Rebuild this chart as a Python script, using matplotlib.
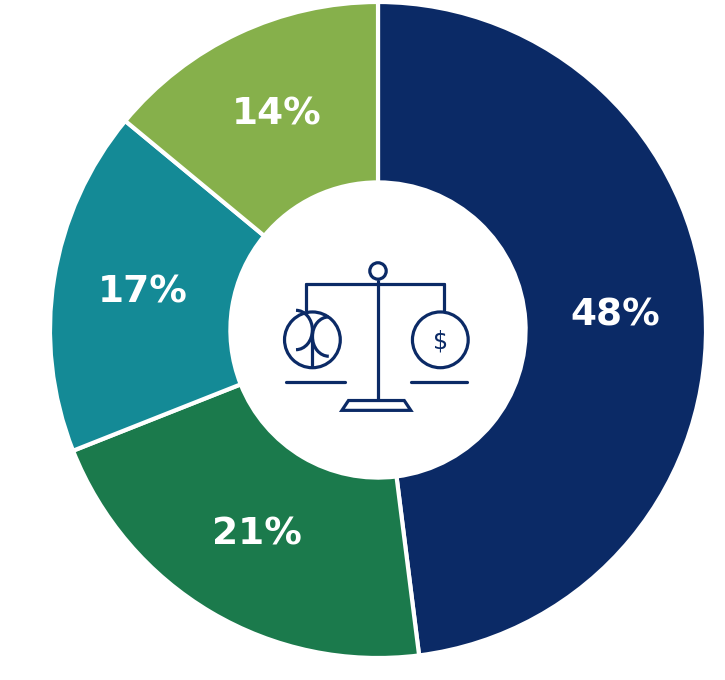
import matplotlib
matplotlib.use("Agg")
import matplotlib.pyplot as plt
from matplotlib.patches import Circle, Polygon, Arc

labels = ["48%", "21%", "17%", "14%"]
values = [48, 21, 17, 14]
colors = ["#0b2a66", "#1b7a4c", "#148a96", "#86b04b"]
navy = "#0b2a66"

fig = plt.figure(figsize=(7.25, 6.8), dpi=100)
ax = fig.add_axes([50/725, 22/680, 656/725, 656/680])
wedges, _ = ax.pie(values, colors=colors, startangle=90, counterclock=False,
                   radius=1, wedgeprops=dict(width=0.55, edgecolor="white", linewidth=3))
import numpy as np
ang = 90
for v, lab in zip(values, labels):
    mid = np.deg2rad(ang - v/100*360/2)
    ang -= v/100*360
    r = 0.725
    ax.text(r*np.cos(mid), r*np.sin(mid), lab, ha="center", va="center",
            color="white", fontsize=27, fontweight="bold")

lw = 2.3
kw = dict(color=navy, lw=lw, solid_capstyle="round")
ax.plot([0, 0], [0.15, -0.21], **kw)
ax.add_patch(Circle((0, 0.18), 0.025, fill=False, ec=navy, lw=lw))
ax.plot([-0.22, 0.20], [0.14, 0.14], **kw)
ax.plot([-0.22, -0.27, -0.27], [0.14, 0.12, -0.16], **kw) if False else None
ax.plot([-0.22, -0.22], [0.14, 0.06], **kw)
ax.plot([0.20, 0.20], [0.14, 0.06], **kw)
ax.add_patch(Circle((-0.2, -0.03), 0.085, fill=False, ec=navy, lw=lw))
ax.add_patch(Circle((0.19, -0.03), 0.085, fill=False, ec=navy, lw=lw))
ax.plot([-0.28, -0.1], [-0.16, -0.16], **kw)
ax.plot([0.1, 0.27], [-0.16, -0.16], **kw)
ax.add_patch(Polygon([[-0.11, -0.245], [0.1, -0.245], [0.08, -0.215], [-0.09, -0.215]],
                     closed=True, fill=False, ec=navy, lw=lw))
ax.text(0.19, -0.035, "$", ha="center", va="center", color=navy, fontsize=17)
# leaf
ax.plot([-0.2, -0.2], [-0.11, 0.0], **kw)
ax.add_patch(Arc((-0.25, -0.0), 0.1, 0.12, theta1=270, theta2=90, ec=navy, lw=lw))
ax.add_patch(Arc((-0.15, -0.02), 0.1, 0.12, theta1=90, theta2=270, ec=navy, lw=lw))
ax.set_xlim(-1, 1); ax.set_ylim(-1, 1)
ax.set_aspect("equal")
fig.savefig("out.png", dpi=100, facecolor="white")
